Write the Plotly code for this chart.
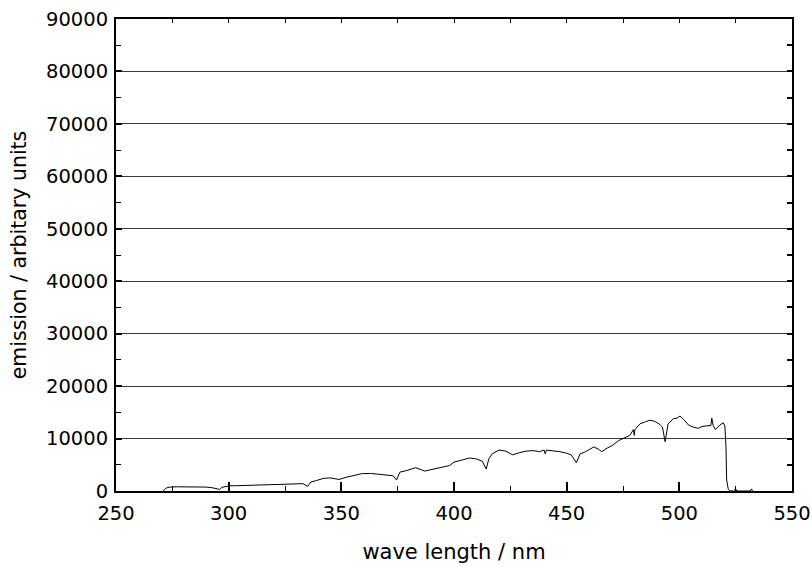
import plotly.graph_objects as go

wavelength_nm = [271.0, 271.5, 272.5, 274, 277, 280, 283, 287, 290, 293, 295, 296, 297, 299, 300,
                 300.5, 303, 307, 312, 316, 320, 325, 330, 333, 335, 336.5, 339, 342, 345, 349,
                 352, 355, 359, 363, 366, 370, 373, 374.5, 376, 379, 383, 387, 390, 393, 396,
                 398, 400, 403, 407, 410, 412.5, 414.3, 415.5, 417, 420, 423, 426, 429, 432, 435,
                 438, 440, 440.5, 441, 444, 447, 450, 452, 454.3, 456, 458, 460, 462, 464, 465.6,
                 468, 470, 473, 476, 478, 479.6, 480, 480.3, 482.5, 485, 487, 489, 491, 492.5,
                 493.7, 495, 497.4, 499, 500.3, 502, 504, 506, 508.4, 510, 512, 514, 514.4, 515,
                 516, 518, 519.5, 520.2, 520.7, 521, 521.7, 522.5, 524, 525, 525.5, 531.5, 532, 532.5]
emission = [0, 300, 600, 750, 800, 780, 820, 800, 750, 600, 350, 300, 700, 900, 1050,
            1000, 1000, 1050, 1000, 1100, 1150, 1250, 1350, 1400, 900, 1700, 2000, 2400, 2500, 2200,
            2600, 2900, 3300, 3350, 3250, 3100, 2900, 2100, 3600, 3900, 4450, 3800, 4100, 4350, 4600,
            4850, 5500, 5900, 6300, 6100, 5700, 4200, 6200, 7100, 7800, 7600, 6900, 7300, 7600, 7700,
            7500, 7800, 7100, 7800, 7700, 7500, 7200, 6900, 5400, 7100, 7400, 7900, 8400, 8000, 7500,
            8200, 8600, 9600, 10200, 10600, 11700, 10600, 11700, 12800, 13200, 13500, 13300, 12800, 12200,
            9400, 12800, 13800, 13900, 14300, 13600, 12600, 12200, 11950, 12300, 12400, 12500, 13900, 12500,
            11700, 12600, 13000, 12400, 8500, 2100, 400, 0, 0, 400, 0, 0, 400, 0]

x_ticks = [250, 300, 350, 400, 450, 500, 550]
y_ticks = [0, 10000, 20000, 30000, 40000, 50000, 60000, 70000, 80000, 90000]

FONT = "DejaVu Sans"

fig = go.Figure()
fig.add_trace(go.Scatter(x=wavelength_nm, y=emission, mode="lines",
                         line=dict(color="black", width=1), showlegend=False,
                         hoverinfo="skip"))
# helper trace to anchor the top / right tick axes
fig.add_trace(go.Scatter(x=[250, 550], y=[0, 90000], xaxis="x2", yaxis="y2",
                         mode="markers", marker=dict(opacity=0), showlegend=False,
                         hoverinfo="skip"))

fig.update_layout(
    width=812, height=567,
    margin=dict(l=116, r=20, t=19, b=76),
    paper_bgcolor="white", plot_bgcolor="white",
    font=dict(family=FONT, color="black", size=19),
    xaxis=dict(range=[250, 550], tickvals=x_ticks, ticktext=[str(v) for v in x_ticks],
               ticks="inside", ticklen=9, tickwidth=1.5, tickcolor="black",
               minor=dict(ticks="inside", ticklen=5, dtick=25, tickwidth=1, tickcolor="black",
                          showgrid=False),
               showline=True, linecolor="black", linewidth=2, mirror=True,
               showgrid=False, zeroline=False, automargin=False,
               tickfont=dict(size=19.5), ticklabelstandoff=4,
               title=dict(text="wave length / nm", font=dict(size=21), standoff=20)),
    yaxis=dict(range=[0, 90000], tickvals=y_ticks, ticktext=[str(v) for v in y_ticks],
               ticks="inside", ticklen=6, tickwidth=2, tickcolor="black",
               minor=dict(ticks="inside", ticklen=5, dtick=5000, tickwidth=1, tickcolor="black",
                          showgrid=False),
               showline=True, linecolor="black", linewidth=2, mirror=True,
               showgrid=True, gridcolor="#3a3a3a", gridwidth=1, zeroline=False, automargin=False,
               tickfont=dict(size=19.5), ticklabelstandoff=2,
               title=dict(text="emission / arbitary units", font=dict(size=20.5), standoff=14)),
    xaxis2=dict(range=[250, 550], overlaying="x", side="top", anchor="y",
                ticks="inside", ticklen=4, dtick=25, tick0=250, tickwidth=1, tickcolor="black",
                showticklabels=False, showgrid=False, zeroline=False, showline=False,
                automargin=False),
    yaxis2=dict(range=[0, 90000], overlaying="y", side="right", anchor="x",
                ticks="inside", ticklen=5, dtick=5000, tick0=0, tickwidth=1.5, tickcolor="black",
                showticklabels=False, showgrid=False, zeroline=False, showline=False,
                automargin=False),
)

fig.write_html("out.html")
